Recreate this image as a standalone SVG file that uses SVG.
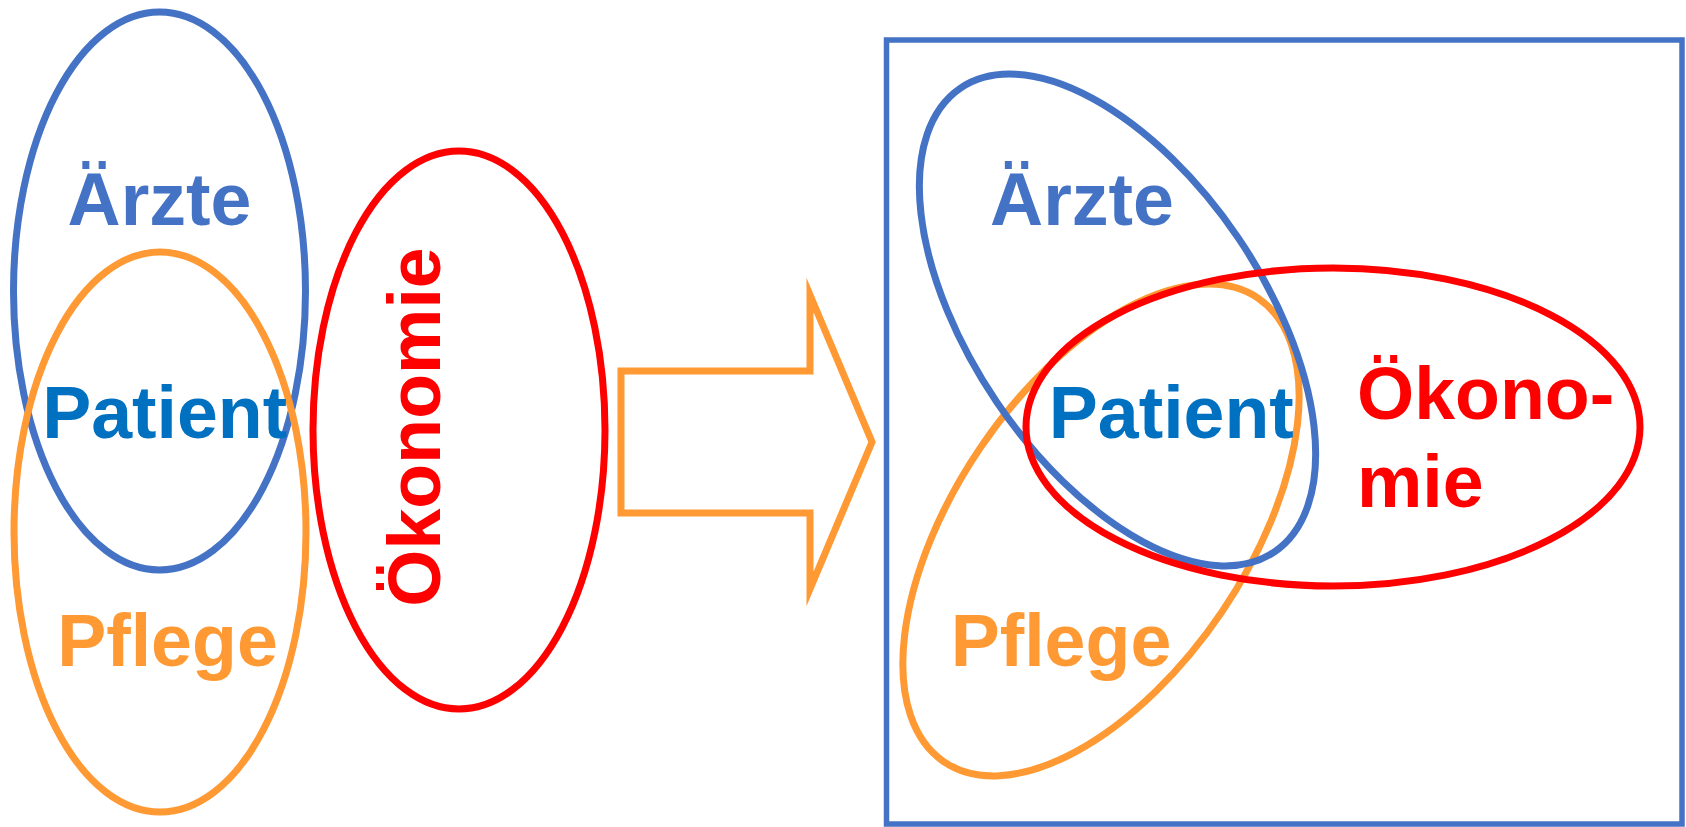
<svg xmlns="http://www.w3.org/2000/svg" width="1686" height="827" viewBox="0 0 1686 827">
  <style>
    .lbl { font-family: "Liberation Sans", Arial, sans-serif; font-weight: bold; font-size: 73.5px; }
    .ring { fill: none; stroke-width: 7; }
    .blue { stroke: #4472C4; }
    .orange { stroke: #FF9933; }
    .red { stroke: #FF0000; }
    .t-blue { fill: #4472C4; }
    .t-patient { fill: #0070C0; }
    .t-orange { fill: #FF9933; }
    .t-red { fill: #FF0000; }
  </style>
  <rect width="1686" height="827" fill="#FFFFFF"/>

  <!-- separate groups: doctors, nursing, patient, economy -->
  <g id="left-aerzte">
    <ellipse class="ring blue" cx="159.5" cy="291" rx="146" ry="279"/>
  </g>
  <g id="left-pflege">
    <ellipse class="ring orange" cx="160" cy="532" rx="146" ry="280"/>
  </g>
  <g id="left-oekonomie">
    <ellipse class="ring red" cx="459" cy="430" rx="146" ry="279"/>
    <text class="lbl t-red" text-anchor="middle" transform="translate(439.5,427) rotate(-90)">Ökonomie</text>
  </g>
  <g id="left-labels">
    <text class="lbl t-blue" x="159.5" y="225" text-anchor="middle">Ärzte</text>
    <text class="lbl t-patient" x="164.7" y="438" text-anchor="middle">Patient</text>
    <text class="lbl t-orange" x="167.5" y="666" text-anchor="middle">Pflege</text>
  </g>

  <!-- transition arrow -->
  <g id="connectors">
    <polygon points="621,371 810,371 810,295 872,442 810,589 810,513 621,513" fill="none" stroke="#FF9933" stroke-width="7" stroke-miterlimit="10"/>
  </g>

  <!-- integrated model in frame -->
  <g id="frame">
    <rect x="886.5" y="40" width="795.5" height="784" fill="none" stroke="#4472C4" stroke-width="5.5"/>
  </g>
  <g id="right-pflege">
    <ellipse class="ring orange" cx="0" cy="0" rx="146" ry="280" transform="translate(1101,530) rotate(34.1)"/>
  </g>
  <g id="right-aerzte">
    <ellipse class="ring blue" cx="0" cy="0" rx="146" ry="280" transform="translate(1117.5,320) rotate(-34.1)"/>
  </g>
  <g id="right-oekonomie">
    <ellipse class="ring red" cx="1333" cy="427" rx="307" ry="159" stroke-width="8"/>
    <text class="lbl t-red" x="1357" y="419">Ökono-</text>
    <text class="lbl t-red" x="1357" y="507">mie</text>
  </g>
  <g id="right-labels">
    <text class="lbl t-blue" x="1082" y="225" text-anchor="middle">Ärzte</text>
    <text class="lbl t-patient" x="1171.3" y="438" text-anchor="middle">Patient</text>
    <text class="lbl t-orange" x="1061" y="666" text-anchor="middle">Pflege</text>
  </g>
</svg>
